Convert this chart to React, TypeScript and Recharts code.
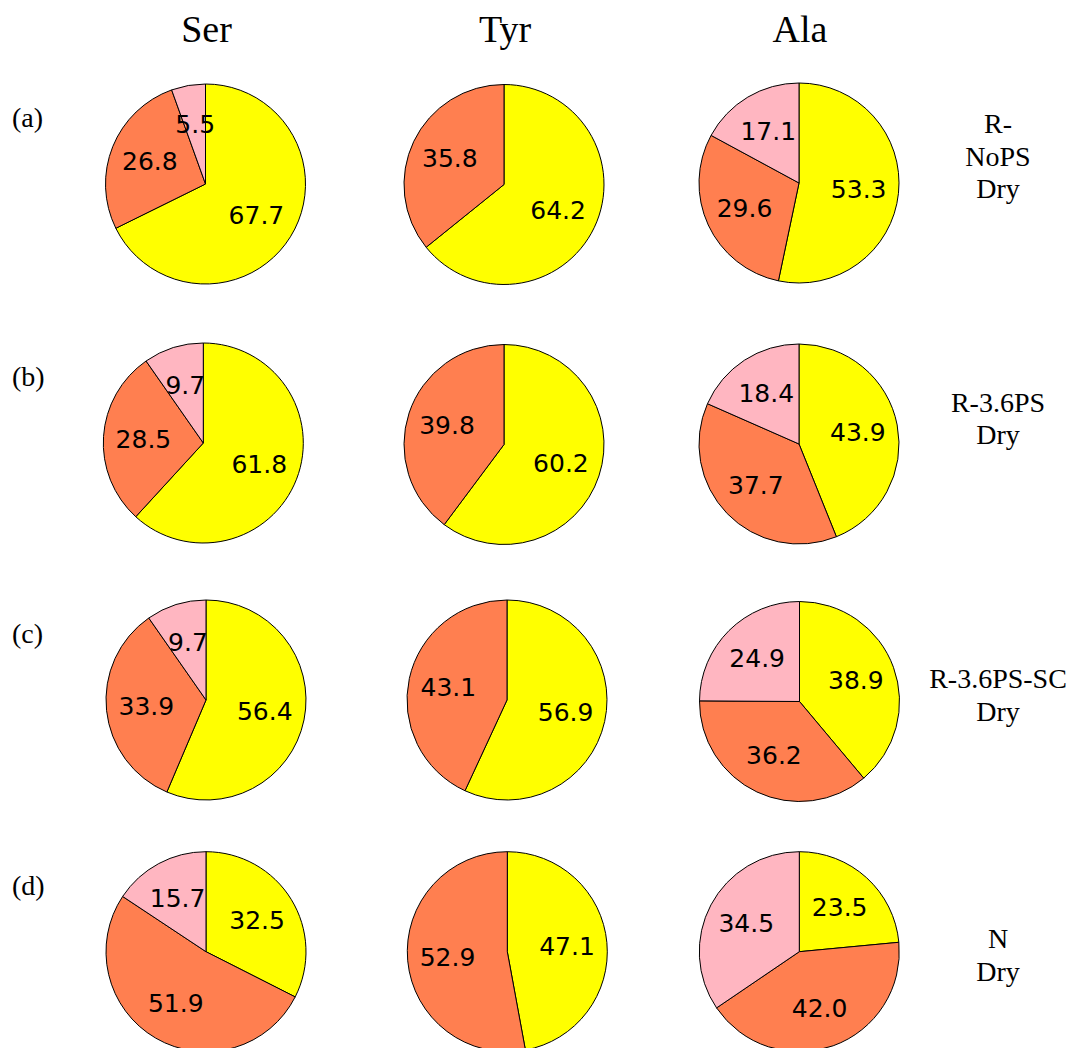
import { PieChart, Pie, Cell } from "recharts"

const species = ["Ser", "Tyr", "Ala"]
const panels = ["(a)", "(b)", "(c)", "(d)"]
const conditions = [
  ["R-", "NoPS", "Dry"],
  ["R-3.6PS", "Dry"],
  ["R-3.6PS-SC", "Dry"],
  ["N", "Dry"],
]

// rows follow panels, columns follow species
const yellowShare = [
  [67.7, 64.2, 53.3],
  [61.8, 60.2, 43.9],
  [56.4, 56.9, 38.9],
  [32.5, 47.1, 23.5],
]
const orangeShare = [
  [26.8, 35.8, 29.6],
  [28.5, 39.8, 37.7],
  [33.9, 43.1, 36.2],
  [51.9, 52.9, 42.0],
]
const pinkShare = [
  [5.5, 0, 17.1],
  [9.7, 0, 18.4],
  [9.7, 0, 24.9],
  [15.7, 0, 34.5],
]

const COLORS: Record<string, string> = {
  yellow: "#FFFF00",
  orange: "#FF7F50",
  pink: "#FFB6C1",
}

// pie centres in px, per panel row / species column
const CENTERS = [
  [[205.5, 184], [504, 184.5], [799, 183]],
  [[203.3, 443], [504, 444.5], [799, 444]],
  [[206, 700], [507, 700], [799.5, 701.5]],
  [[206, 951.7], [507.3, 951.7], [799.3, 951.7]],
]
const RADIUS = 100
const RAD = Math.PI / 180

const W = 1071
const H = 1048

function buildSlices(row: number, col: number) {
  return [
    { key: "yellow", value: yellowShare[row][col] },
    { key: "orange", value: orangeShare[row][col] },
    { key: "pink", value: pinkShare[row][col] },
  ].filter((d) => d.value > 0)
}

const renderLabel = (props: any) => {
  const { cx, cy, midAngle, outerRadius, value } = props
  const r = outerRadius * 0.6
  const x = cx + r * Math.cos(-midAngle * RAD)
  const y = cy + r * Math.sin(-midAngle * RAD)
  return (
    <text
      x={x}
      y={y}
      fill="#000"
      textAnchor="middle"
      dominantBaseline="central"
      style={{ fontFamily: "DejaVu Sans", fontSize: 25 }}
    >
      {Number(value).toFixed(1)}
    </text>
  )
}

export default function App() {
  const serif = { fontFamily: "Liberation Serif", fill: "#000" }
  return (
    <div style={{ position: "absolute", left: 0, top: 0, width: W, height: H, background: "#fff" }}>
      <PieChart width={W} height={H} margin={{ top: 0, right: 0, bottom: 0, left: 0 }}>
        {panels.map((_, row) =>
          species.map((sp, col) => {
            const [cx, cy] = CENTERS[row][col]
            const slices = buildSlices(row, col)
            return (
              <Pie
                key={`${row}-${sp}`}
                data={slices}
                dataKey="value"
                nameKey="key"
                cx={cx}
                cy={cy}
                outerRadius={RADIUS}
                startAngle={90}
                endAngle={-270}
                stroke="#000"
                strokeWidth={1}
                label={renderLabel}
                labelLine={false}
                isAnimationActive={false}
              >
                {slices.map((s) => (
                  <Cell key={s.key} fill={COLORS[s.key]} />
                ))}
              </Pie>
            )
          })
        )}
      </PieChart>
      <svg width={W} height={H} style={{ position: "absolute", left: 0, top: 0, pointerEvents: "none" }}>
        {species.map((sp, col) => (
          <text key={sp} x={CENTERS[0][col][0] + 1} y={42} textAnchor="middle" style={{ ...serif, fontSize: 38 }}>
            {sp}
          </text>
        ))}
        {panels.map((p, row) => (
          <text key={p} x={12} y={CENTERS[row][0][1] - 57} style={{ ...serif, fontSize: 28 }}>
            {p}
          </text>
        ))}
        {conditions.map((lines, row) => {
          const firstBaseline = [133, 411.7, 688, 948][row]
          return (
            <text key={row} textAnchor="middle" style={{ ...serif, fontSize: 28 }}>
              {lines.map((ln, i) => (
                <tspan key={i} x={998} y={firstBaseline + i * 32.7}>
                  {ln}
                </tspan>
              ))}
            </text>
          )
        })}
      </svg>
    </div>
  )
}
